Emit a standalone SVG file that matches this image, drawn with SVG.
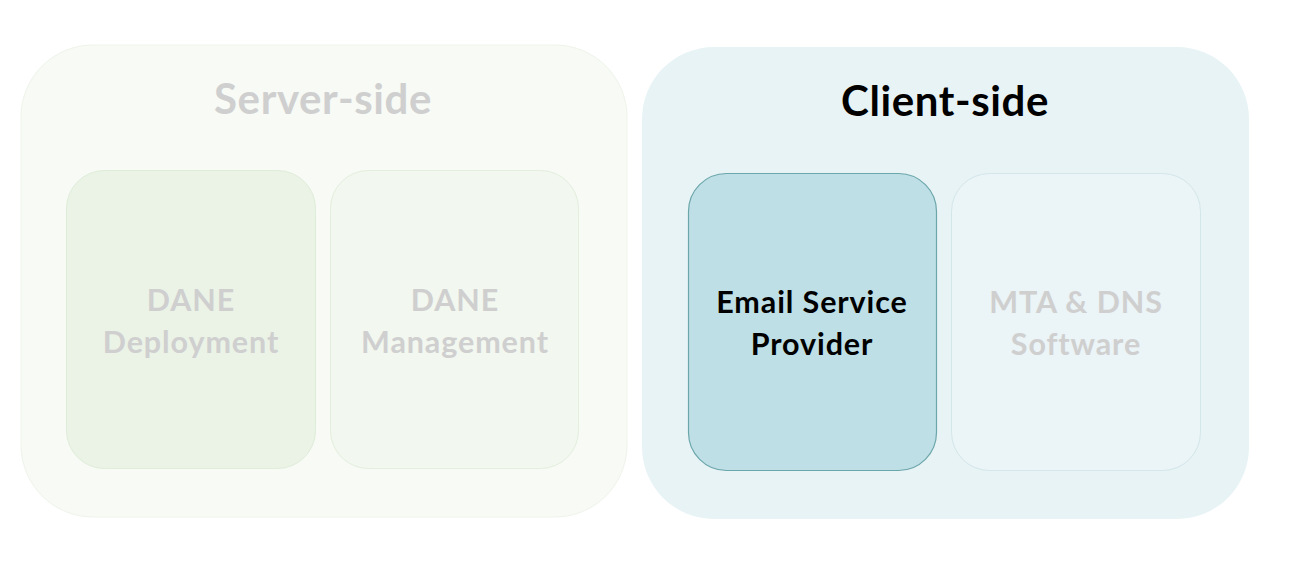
<svg xmlns="http://www.w3.org/2000/svg" width="1291" height="565" viewBox="0 0 1291 565">
<style>
text{font-family:Lato,"Open Sans","Liberation Sans",sans-serif;font-weight:bold;text-anchor:middle}
.title{font-size:42px;letter-spacing:0.6px}
.lbl{font-size:30.5px;letter-spacing:0.9px}
.dim{fill:#cfcfcf}
.dark{fill:#000}
</style>
<rect width="1291" height="565" fill="#ffffff"/>
<g id="server-side">
<rect x="21" y="45" width="606" height="472" rx="72" fill="#f7faf5" stroke="#eef4ea" stroke-width="1"/>
<text class="title dim" x="323" y="114">Server-side</text>
</g>
<g id="dane-deployment">
<rect x="66.5" y="170.5" width="249" height="298" rx="38" fill="#ebf3e7" stroke="#dfecd8" stroke-width="1"/>
<text class="lbl dim" x="191" y="311">DANE</text>
<text class="lbl dim" x="191" y="353">Deployment</text>
</g>
<g id="dane-management">
<rect x="330.5" y="170.5" width="248" height="298" rx="38" fill="#f2f7ef" stroke="#e3eedc" stroke-width="1"/>
<text class="lbl dim" x="455" y="311">DANE</text>
<text class="lbl dim" x="455" y="353">Management</text>
</g>
<g id="client-side">
<rect x="642" y="47" width="607" height="472" rx="72" fill="#e8f3f5"/>
<text class="title dark" x="945" y="116">Client-side</text>
</g>
<g id="email-service-provider">
<rect x="688.5" y="173.5" width="248" height="297" rx="38" fill="#bedfe5" stroke="#6ba6ab" stroke-width="1.2"/>
<text class="lbl dark" x="812" y="313">Email Service</text>
<text class="lbl dark" x="812" y="355">Provider</text>
</g>
<g id="mta-dns-software">
<rect x="951.5" y="173.5" width="249" height="297" rx="38" fill="#ebf4f6" stroke="#d3e6ea" stroke-width="1"/>
<text class="lbl dim" x="1076" y="313">MTA &amp; DNS</text>
<text class="lbl dim" x="1076" y="355">Software</text>
</g>
<g id="connectors"/>
</svg>
